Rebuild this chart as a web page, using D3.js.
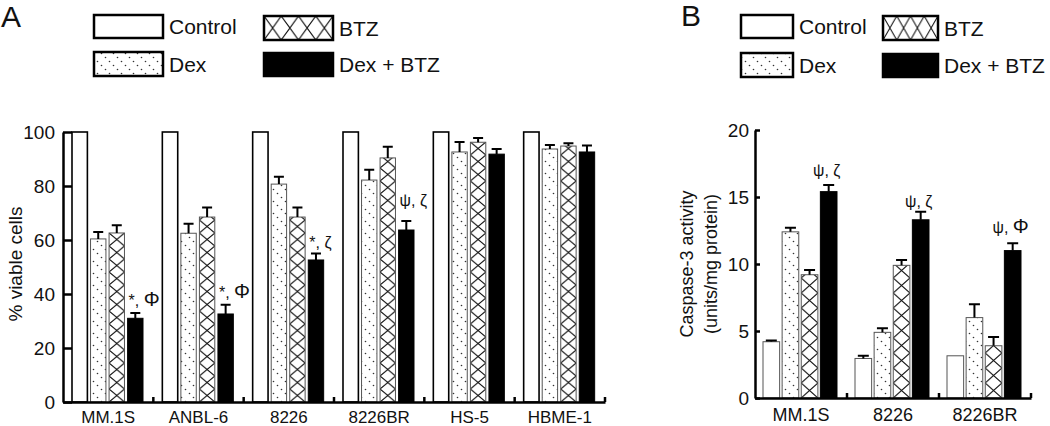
<!DOCTYPE html>
<html>
<head>
<meta charset="utf-8">
<script src="https://cdn.jsdelivr.net/npm/d3@7"></script>
<style>
  body { margin: 0; background: #fff; }
  svg { display: block; font-family: "Liberation Sans", Arial, Helvetica, sans-serif; }
</style>
</head>
<body>
<svg id="chart" width="1050" height="426"></svg>
<script>
// ---------- DATA ----------
const seriesNames = ["Control", "Dex", "BTZ", "Dex + BTZ"];

// Panel A: % viable cells
const groupsA = ["MM.1S", "ANBL-6", "8226", "8226BR", "HS-5", "HBME-1"];
const controlA = [100, 100, 100, 100, 100, 100];
const dexA = [60.4, 62.5, 80.7, 82.2, 92.6, 93.7];
const btzA = [62.6, 68.5, 68.5, 90.4, 96.2, 94.8];
const dexBtzA = [31.0, 32.6, 52.6, 63.7, 91.8, 92.6];
const controlErrA = [0, 0, 0, 0, 0, 0];
const dexErrA = [2.6, 3.5, 2.7, 3.8, 3.7, 1.5];
const btzErrA = [2.9, 3.5, 3.5, 4.1, 1.6, 1.0];
const dexBtzErrA = [2.0, 3.4, 2.4, 3.3, 1.9, 2.4];
const annotA = ["*, Φ", "*, Φ", "*, ζ", "ψ, ζ", "", ""];
const yTicksA = [0, 20, 40, 60, 80, 100];

// Panel B: Caspase-3 activity
const groupsB = ["MM.1S", "8226", "8226BR"];
const controlB = [4.2, 2.95, 3.15];
const dexB = [12.4, 4.9, 6.0];
const btzB = [9.2, 9.9, 3.9];
const dexBtzB = [15.4, 13.3, 11.0];
const controlErrB = [0.1, 0.2, 0];
const dexErrB = [0.3, 0.3, 1.0];
const btzErrB = [0.35, 0.4, 0.65];
const dexBtzErrB = [0.5, 0.6, 0.55];
const annotB = ["ψ, ζ", "ψ, ζ", "ψ, Φ"];
const yTicksB = [0, 5, 10, 15, 20];

// ---------- HELPERS ----------
const svg = d3.select("#chart");
const defs = svg.append("defs");

// dotted diagonal pattern for Dex
const dp = defs.append("pattern").attr("id", "dexPat")
  .attr("patternUnits", "userSpaceOnUse").attr("width", 12).attr("height", 12);
dp.append("rect").attr("width", 12).attr("height", 12).attr("fill", "#fff");
[[1.5, 1.5], [5.5, 5.5], [9.5, 9.5]].forEach(p =>
  dp.append("circle").attr("cx", p[0]).attr("cy", p[1]).attr("r", 0.8).attr("fill", "#333"));

let patCount = 0;
function btzPattern(x, y, w, h) {
  const id = "btz" + (patCount++);
  const p = defs.append("pattern").attr("id", id)
    .attr("patternUnits", "userSpaceOnUse")
    .attr("x", x).attr("y", y).attr("width", w).attr("height", h);
  p.append("rect").attr("width", w).attr("height", h).attr("fill", "#fff");
  p.append("path").attr("d", `M0,0L${w},${h}M${w},0L0,${h}`)
    .attr("stroke", "#111").attr("stroke-width", 1.1).attr("fill", "none");
  return "url(#" + id + ")";
}

function writeAnnot(sel, t, size) {
  // larger Φ, as in the reference
  t.split("").forEach(ch => {
    sel.append("tspan").attr("font-size", ch === "Φ" ? size + 4 : size).text(ch);
  });
}

function buildPanel(cfg) {
  const g = svg.append("g");
  const x = d3.scaleBand().domain(cfg.groups).range(cfg.xRange);
  const inner = d3.scaleBand().domain(seriesNames).range(cfg.innerRange).paddingInner(cfg.innerPad);
  const y = d3.scaleLinear().domain([0, cfg.yMax]).range(cfg.yRange);
  const bw = inner.bandwidth();

  const series = [
    { name: "Control", vals: cfg.control, errs: cfg.controlErr },
    { name: "Dex", vals: cfg.dex, errs: cfg.dexErr },
    { name: "BTZ", vals: cfg.btz, errs: cfg.btzErr },
    { name: "Dex + BTZ", vals: cfg.dexBtz, errs: cfg.dexBtzErr }
  ];
  const rows = [];
  cfg.groups.forEach((grp, i) => series.forEach(s => rows.push({
    grp, i, s: s.name, v: s.vals[i], e: s.errs[i]
  })));

  // bars
  g.selectAll("rect.bar").data(rows).join("rect").attr("class", "bar")
    .attr("x", d => x(d.grp) + inner(d.s))
    .attr("y", d => y(d.v))
    .attr("width", bw)
    .attr("height", d => y(0) - y(d.v))
    .attr("fill", d => {
      if (d.s === "Control") return "#fff";
      if (d.s === "Dex") return "url(#dexPat)";
      if (d.s === "BTZ") return btzPattern(x(d.grp) + inner(d.s), y(0), bw, cfg.hatchH);
      return "#000";
    })
    .attr("stroke", d => d.s === "Dex + BTZ" ? "#000" : (d.s === "Control" ? cfg.ctrlStroke : "#555"))
    .attr("stroke-width", d => d.s === "Control" ? cfg.ctrlStrokeW : 1);

  // error bars (upward only)
  const er = rows.filter(d => d.e > 0);
  g.selectAll("path.err").data(er).join("path").attr("class", "err")
    .attr("d", d => {
      const cx = x(d.grp) + inner(d.s) + bw / 2;
      const yt = y(d.v + d.e);
      return `M${cx},${y(d.v)}V${yt}M${cx - cfg.cap / 2},${yt}H${cx + cfg.cap / 2}`;
    })
    .attr("stroke", "#000").attr("stroke-width", 2).attr("fill", "none");

  // annotations
  g.selectAll("text.ann").data(cfg.groups.map((grp, i) => ({ grp, i, t: cfg.annot[i] })).filter(d => d.t))
    .join("text").attr("class", "ann")
    .attr("x", d => cfg.annotAnchor === "start" ? x(d.grp) + inner("Dex + BTZ") + 1 : x(d.grp) + inner("Dex + BTZ") + bw / 2 - 2)
    .attr("y", d => y(cfg.dexBtz[d.i] + cfg.dexBtzErr[d.i]) - cfg.annotOff[d.i])
    .attr("text-anchor", cfg.annotAnchor)
    .attr("fill", "#111")
    .each(function (d) { writeAnnot(d3.select(this), d.t, cfg.annotSize); });

  // y axis
  const ya = g.append("g").attr("transform", `translate(${cfg.xRange[0]},0)`)
    .call(d3.axisLeft(y).tickValues(cfg.yTicks).tickSizeInner(-cfg.tickLen).tickSizeOuter(0).tickPadding(cfg.tickPad));
  ya.select(".domain").attr("stroke-width", 2.5);
  ya.selectAll(".tick line").attr("stroke-width", 2.5);
  ya.selectAll(".tick text").attr("font-size", cfg.tickFont).attr("font-family", null).attr("fill", "#111");

  // x axis
  const xa = g.append("g").attr("transform", `translate(0,${y(0)})`)
    .call(d3.axisBottom(x).tickSize(0).tickPadding(cfg.xLabPad));
  xa.select(".domain").attr("stroke-width", 2.5);
  xa.selectAll(".tick text").attr("font-size", cfg.xFont).attr("font-family", null).attr("fill", "#111");
  // group boundary ticks (upward)
  g.selectAll("line.bt").data(cfg.groups).join("line").attr("class", "bt")
    .attr("x1", d => x(d) + x.step()).attr("x2", d => x(d) + x.step())
    .attr("y1", y(0)).attr("y2", y(0) - 5)
    .attr("stroke", "#000").attr("stroke-width", 2.5);

  return { x, y, g };
}

// ---------- PANEL A ----------
buildPanel({
  groups: groupsA, control: controlA, dex: dexA, btz: btzA, dexBtz: dexBtzA,
  controlErr: controlErrA, dexErr: dexErrA, btzErr: btzErrA, dexBtzErr: dexBtzErrA,
  annot: annotA, annotOff: [7, 7, 6, 15, 0, 0], annotAnchor: "start", annotSize: 16,
  xRange: [63, 605], innerRange: [9, 80], innerPad: 0.17,
  yMax: 100, yRange: [402, 132], yTicks: yTicksA,
  tickLen: 9, tickPad: 8, tickFont: 19, xFont: 17, xLabPad: 9,
  hatchH: 13, cap: 10, ctrlStroke: "#000", ctrlStrokeW: 1.6
});

// ---------- PANEL B ----------
buildPanel({
  groups: groupsB, control: controlB, dex: dexB, btz: btzB, dexBtz: dexBtzB,
  controlErr: controlErrB, dexErr: dexErrB, btzErr: btzErrB, dexBtzErr: dexBtzErrB,
  annot: annotB, annotOff: [9, 5, 10], annotAnchor: "middle", annotSize: 16,
  xRange: [755, 1031], innerRange: [8, 82], innerPad: 0.13,
  yMax: 20, yRange: [398, 130], yTicks: yTicksB,
  tickLen: 5, tickPad: 6, tickFont: 19, xFont: 18, xLabPad: 10,
  hatchH: 15, cap: 11, ctrlStroke: "#555", ctrlStrokeW: 1
});

// ---------- AXIS TITLES ----------
svg.append("text").attr("transform", "translate(15,264) rotate(-90)")
  .attr("text-anchor", "middle").attr("dominant-baseline", "central")
  .attr("font-size", 19).attr("fill", "#111").text("% viable cells");
svg.append("text").attr("transform", "translate(687,264) rotate(-90)")
  .attr("text-anchor", "middle").attr("dominant-baseline", "central")
  .attr("font-size", 18).attr("fill", "#111").text("Caspase-3 activity");
svg.append("text").attr("transform", "translate(711,264) rotate(-90)")
  .attr("text-anchor", "middle").attr("dominant-baseline", "central")
  .attr("font-size", 18).attr("fill", "#111").text("(units/mg protein)");

// ---------- PANEL LETTERS ----------
svg.append("text").attr("x", 1).attr("y", 27).attr("font-size", 30).attr("fill", "#111").text("A");
svg.append("text").attr("x", 681).attr("y", 26).attr("font-size", 30).attr("fill", "#111").text("B");

// ---------- LEGENDS ----------
function legend(items) {
  items.forEach(it => {
    let fill = "#fff";
    if (it.s === "Dex") fill = "url(#dexPat)";
    if (it.s === "BTZ") fill = btzPattern(it.x, it.y, it.w / 4, it.h);
    if (it.s === "Dex + BTZ") fill = "#000";
    svg.append("rect").attr("x", it.x).attr("y", it.y).attr("width", it.w).attr("height", it.h)
      .attr("fill", fill).attr("stroke", "#000").attr("stroke-width", 2.5);
    svg.append("text").attr("x", it.x + it.w + 6).attr("y", it.y + it.h / 2)
      .attr("dominant-baseline", "central").attr("font-size", 21).attr("fill", "#111").text(it.s);
  });
}
legend([
  { s: seriesNames[0], x: 94, y: 15, w: 69, h: 23 },
  { s: seriesNames[2], x: 264, y: 16, w: 69, h: 24 },
  { s: seriesNames[1], x: 94, y: 52, w: 69, h: 24 },
  { s: seriesNames[3], x: 264, y: 53, w: 69, h: 23 }
]);
legend([
  { s: seriesNames[0], x: 741, y: 15, w: 52, h: 23 },
  { s: seriesNames[2], x: 883, y: 16, w: 55, h: 24 },
  { s: seriesNames[1], x: 741, y: 53, w: 52, h: 24 },
  { s: seriesNames[3], x: 883, y: 54, w: 55, h: 23 }
]);
</script>
</body>
</html>
